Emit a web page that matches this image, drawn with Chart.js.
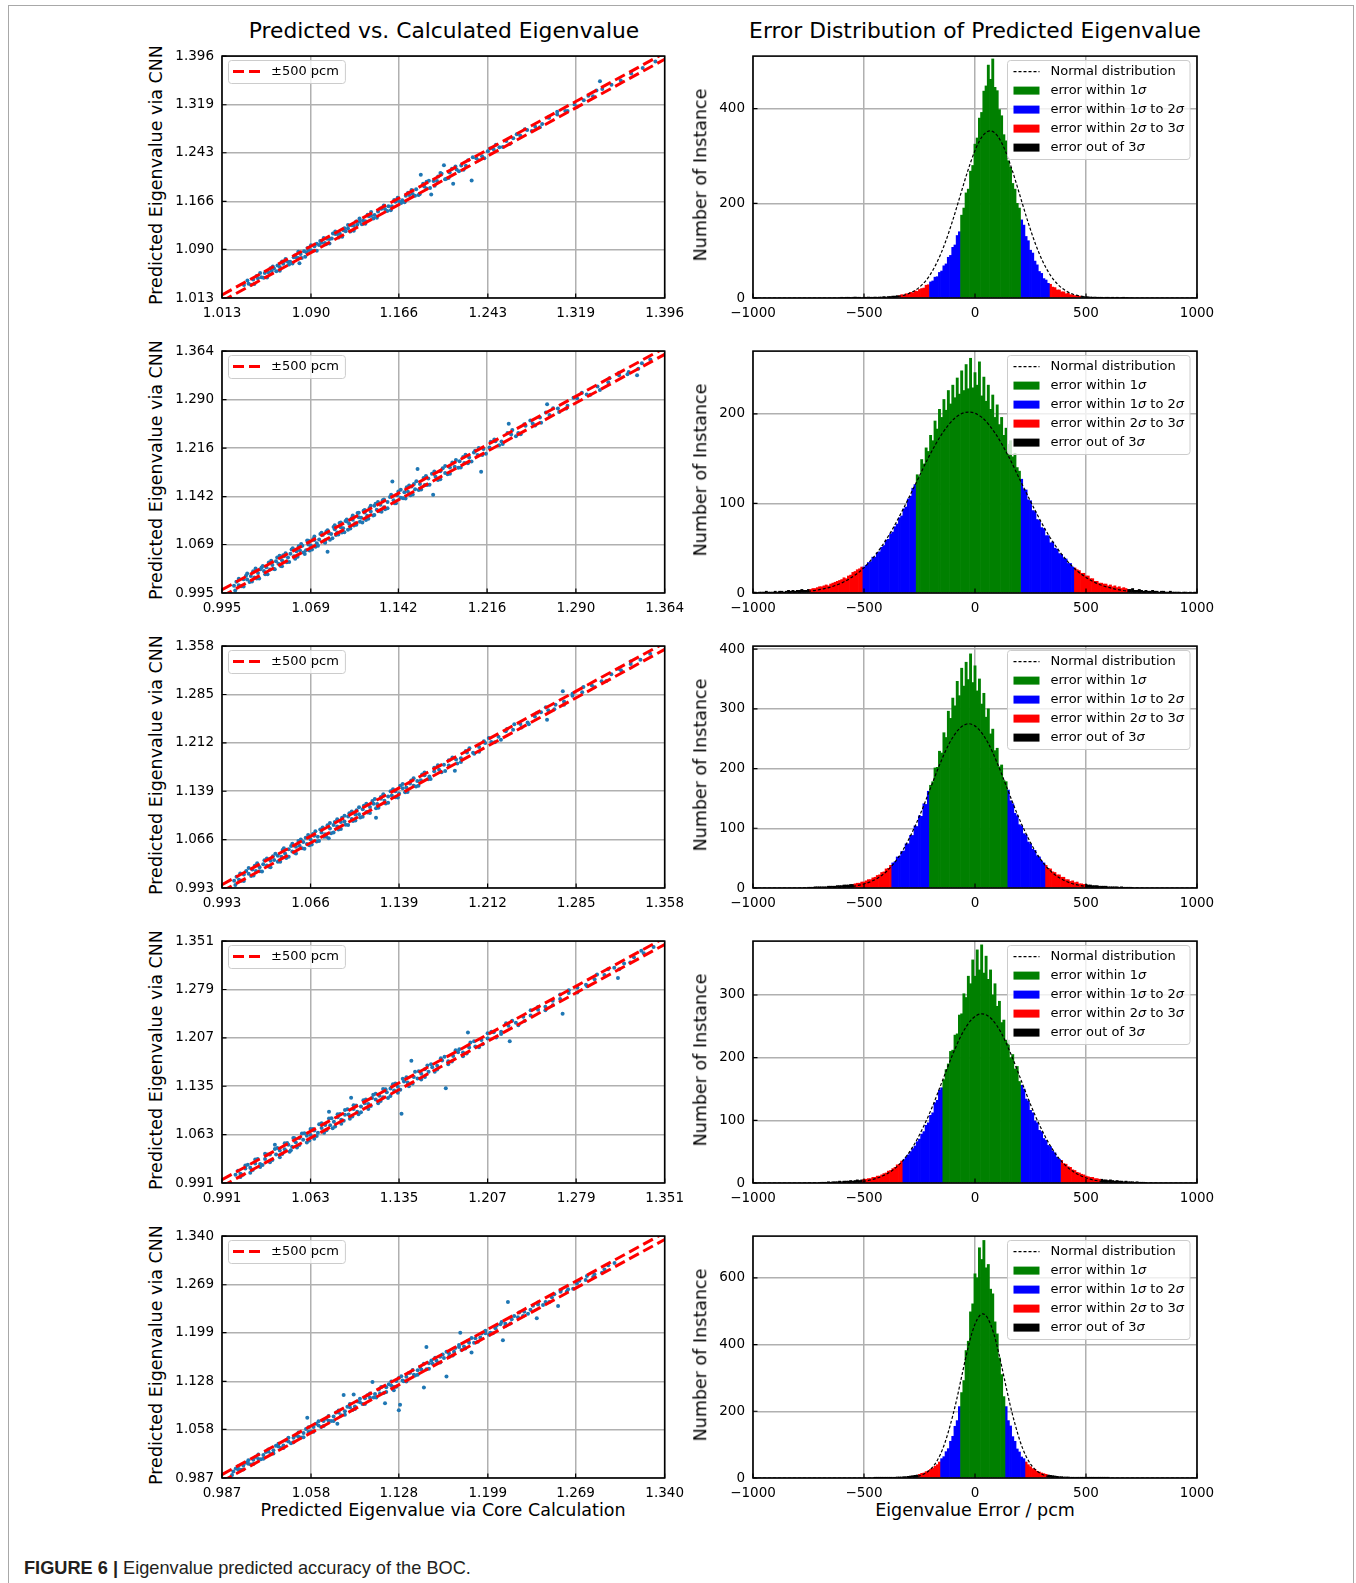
<!DOCTYPE html>
<html>
<head>
<meta charset="utf-8">
<script src="https://cdn.jsdelivr.net/npm/chart.js@4.4.1/dist/chart.umd.min.js"></script>
<style>
body { margin:0; width:1356px; height:1583px; overflow:hidden; background:#fff; position:relative; font-family:"DejaVu Sans", sans-serif; }
.frame { position:absolute; left:8px; top:5px; width:1344px; height:1600px; border:1px solid #a8a8a8; }
.lbl { position:absolute; white-space:nowrap; transform:translate(-50%,-50%); color:#000; line-height:1; }
.rot { transform:translate(-50%,-50%) rotate(-90deg); }
canvas { position:absolute; }
.caption { position:absolute; left:24px; top:1559px; line-height:1; color:#231f20; font-family:"Liberation Sans Narrow","Liberation Sans",Arial,sans-serif; font-size:18.2px; }
</style>
</head>
<body>
<div class="frame"></div>
<div class="lbl" style="left:444px;top:31px;font-size:21.8px">Predicted vs. Calculated Eigenvalue</div>
<div class="lbl" style="left:975px;top:31px;font-size:21.8px">Error Distribution of Predicted Eigenvalue</div>
<div class="lbl" style="left:443px;top:1511px;font-size:17.5px">Predicted Eigenvalue via Core Calculation</div>
<div class="lbl" style="left:975px;top:1511px;font-size:17.5px">Eigenvalue Error / pcm</div>
<div class="caption"><b>FIGURE 6 |</b> Eigenvalue predicted accuracy of the BOC.</div>
<script>
// tick labels of the eigenvalue axes, one list per row
const kTicks1 = [1.013, 1.090, 1.166, 1.243, 1.319, 1.396];
const kTicks2 = [0.995, 1.069, 1.142, 1.216, 1.290, 1.364];
const kTicks3 = [0.993, 1.066, 1.139, 1.212, 1.285, 1.358];
const kTicks4 = [0.991, 1.063, 1.135, 1.207, 1.279, 1.351];
const kTicks5 = [0.987, 1.058, 1.128, 1.199, 1.269, 1.340];

// scatter points: [calculated eigenvalue, error of the CNN prediction in pcm]
const pts1 = [[1.032,150],[1.036,-60],[1.040,210],[1.044,40],[1.047,-120],[1.050,260],[1.053,90],[1.056,-30],[1.058,180],[1.061,330],[1.063,-90],[1.066,120],[1.068,400],[1.070,20],[1.072,-180],[1.075,240],[1.077,60],[1.079,-260],[1.080,-1200],[1.081,150],[1.084,310],[1.086,-40],[1.088,90],[1.090,-140],[1.093,200],[1.095,380],[1.097,10],[1.099,150],[1.102,-200],[1.104,270],[1.106,60],[1.108,-80],[1.111,330],[1.113,120],[1.115,-30],[1.118,220],[1.120,-150],[1.122,90],[1.125,300],[1.127,20],[1.130,-110],[1.132,180],[1.135,60],[1.137,-240],[1.140,250],[1.142,110],[1.145,-60],[1.148,190],[1.151,350],[1.154,-10],[1.157,140],[1.160,-180],[1.163,230],[1.166,40],[1.169,-120],[1.172,300],[1.175,90],[1.178,-40],[1.181,420],[1.183,-700],[1.185,2300],[1.188,160],[1.190,-380],[1.192,650],[1.194,-1700],[1.196,240],[1.199,-90],[1.202,900],[1.205,1800],[1.207,-500],[1.210,170],[1.213,-1900],[1.216,60],[1.220,280],[1.224,-150],[1.229,-3000],[1.233,120],[1.238,-60],[1.243,220],[1.248,40],[1.253,-130],[1.259,260],[1.265,80],[1.271,-90],[1.277,190],[1.284,30],[1.290,-160],[1.296,240],[1.303,70],[1.310,-110],[1.318,150],[1.326,20],[1.334,-140],[1.340,1600],[1.342,180],[1.350,60],[1.358,-80],[1.367,130],[1.377,20],[1.388,-50],
  [1.038,-420],[1.043,480],[1.049,-380],[1.055,520],[1.060,-450],[1.065,560],[1.071,-500],[1.076,430],[1.082,-560],[1.087,500],[1.092,-420],[1.098,540],[1.103,-480],[1.109,600],[1.114,-520],[1.119,460],[1.124,-560],[1.129,520],[1.134,-430],[1.139,580],[1.144,-500],[1.150,470],[1.156,-540],[1.162,600],[1.168,-460],[1.174,550],[1.180,-520],[1.187,680],[1.193,-600],[1.200,520],[1.206,-480],[1.212,560],[1.218,-420],[1.226,500],[1.235,-380],[1.245,460],[1.256,-400],[1.268,420],[1.281,-360],[1.295,380],[1.312,-300],[1.330,340],
  [1.035,560],[1.041,-600],[1.046,640],[1.052,-660],[1.057,600],[1.063,-700],[1.068,660],[1.074,-640],[1.079,720],[1.085,-680],[1.090,640],[1.095,-720],[1.101,700],[1.106,-660],[1.111,740],[1.117,-700],[1.122,660],[1.127,-740],[1.132,700],[1.137,-660],[1.142,720],[1.147,-700],[1.153,660],[1.159,-720],[1.165,680],[1.171,-640],[1.177,700],[1.184,-660],[1.190,720],[1.197,-640],[1.203,660],[1.209,-600],[1.215,640],[1.222,-580],[1.230,600],[1.240,-560],[1.250,560],[1.262,-520],[1.275,520],[1.288,-480],[1.303,480],[1.320,-440],[1.337,440]];
const pts2 = [[1.005,120],[1.009,-200],[1.013,300],[1.016,-40],[1.019,180],[1.022,-320],[1.025,60],[1.027,420],[1.030,-150],[1.032,240],[1.035,-420],[1.037,90],[1.040,350],[1.042,-250],[1.045,10],[1.047,460],[1.050,-100],[1.052,280],[1.055,-380],[1.057,150],[1.060,-30],[1.062,520],[1.065,-480],[1.067,200],[1.069,-160],[1.072,380],[1.074,-300],[1.076,60],[1.079,440],[1.081,-540],[1.083,-2500],[1.084,220],[1.086,-90],[1.089,330],[1.091,-380],[1.094,120],[1.096,-220],[1.099,500],[1.101,-30],[1.104,260],[1.106,-450],[1.109,140],[1.111,-120],[1.114,380],[1.116,-300],[1.119,40],[1.122,600],[1.124,-200],[1.127,280],[1.130,-420],[1.133,90],[1.137,2800],[1.138,-160],[1.141,330],[1.144,-380],[1.147,180],[1.150,-50],[1.153,460],[1.156,-260],[1.158,2600],[1.160,120],[1.164,-440],[1.167,250],[1.171,-2600],[1.173,-80],[1.177,380],[1.181,-280],[1.185,140],[1.189,-160],[1.193,300],[1.197,-380],[1.201,60],[1.205,420],[1.208,-240],[1.211,-3100],[1.213,180],[1.218,-90],[1.223,330],[1.228,-200],[1.234,1900],[1.236,80],[1.242,-300],[1.248,220],[1.254,-60],[1.260,280],[1.266,1700],[1.268,-140],[1.275,160],[1.283,-220],[1.291,90],[1.299,-120],[1.308,200],[1.317,-40],[1.326,120],[1.334,-180],[1.341,-1400],[1.345,60],[1.352,-90],
  [1.007,520],[1.011,-560],[1.015,640],[1.018,-620],[1.021,700],[1.024,-680],[1.028,580],[1.031,-740],[1.034,760],[1.038,-600],[1.041,820],[1.044,-780],[1.046,660],[1.049,-700],[1.053,840],[1.056,-860],[1.059,720],[1.063,-640],[1.066,900],[1.068,-820],[1.071,620],[1.073,-760],[1.077,800],[1.080,-700],[1.082,680],[1.085,-880],[1.088,760],[1.090,-640],[1.093,860],[1.095,-780],[1.098,700],[1.100,-840],[1.103,620],[1.105,-700],[1.108,900],[1.110,-620],[1.113,760],[1.115,-860],[1.118,680],[1.121,-760],[1.123,820],[1.126,-640],[1.129,740],[1.131,-820],[1.135,640],[1.139,-720],[1.142,800],[1.146,-660],[1.149,720],[1.152,-800],[1.155,620],[1.159,-700],[1.163,760],[1.166,-620],[1.170,700],[1.175,-760],[1.179,620],[1.183,-680],[1.187,720],[1.192,-600],[1.196,660],[1.200,-700],[1.206,600],[1.212,-640],[1.219,680],[1.226,-560],[1.233,600],[1.240,-600],[1.247,540],[1.256,-560],[1.265,520],[1.276,-480],[1.288,500],[1.302,-460],[1.318,460],[1.333,-420],
  [1.006,-700],[1.009,760],[1.013,-820],[1.016,880],[1.020,-760],[1.023,920],[1.026,-880],[1.029,700],[1.033,-940],[1.036,820],[1.039,-760],[1.043,900],[1.045,-920],[1.048,780],[1.051,-860],[1.054,940],[1.058,-780],[1.061,860],[1.064,-940],[1.067,760],[1.070,-880],[1.072,920],[1.075,-800],[1.078,880],[1.081,-940],[1.083,780],[1.087,-840],[1.089,920],[1.092,-760],[1.094,860],[1.097,-920],[1.099,800],[1.102,-880],[1.104,940],[1.107,-800],[1.109,860],[1.112,-940],[1.114,780],[1.117,-880],[1.119,900],[1.122,-820],[1.125,880],[1.128,-900],[1.130,760],[1.133,-860],[1.136,900],[1.140,-820],[1.144,860],[1.148,-880],[1.151,780],[1.154,-860],[1.157,840],[1.161,-800],[1.165,860],[1.168,-780],[1.172,820],[1.177,-840],[1.181,760],[1.185,-820],[1.190,780],[1.194,-760],[1.198,800],[1.203,-740],[1.209,720],[1.215,-760],[1.222,700],[1.229,-680],[1.237,660],[1.244,-680],[1.252,620],[1.261,-620],[1.271,600],[1.282,-560],[1.295,540],[1.310,-520],[1.326,500],[1.342,-480]];
const pts3 = [[1.003,80],[1.007,-150],[1.011,220],[1.015,-60],[1.018,300],[1.021,-240],[1.024,40],[1.027,180],[1.030,-320],[1.033,110],[1.036,-80],[1.039,260],[1.042,-190],[1.045,20],[1.048,350],[1.051,-280],[1.054,130],[1.057,-40],[1.060,240],[1.063,-360],[1.066,70],[1.069,300],[1.072,-150],[1.075,180],[1.078,-400],[1.081,-1300],[1.082,60],[1.085,320],[1.088,-220],[1.091,140],[1.094,-60],[1.097,380],[1.100,-300],[1.103,100],[1.106,-160],[1.109,270],[1.112,-420],[1.115,30],[1.118,220],[1.120,-2100],[1.121,-120],[1.124,360],[1.127,-250],[1.130,90],[1.133,-60],[1.136,300],[1.139,-330],[1.142,150],[1.145,-20],[1.148,250],[1.151,-380],[1.154,60],[1.157,-140],[1.160,320],[1.164,-260],[1.168,110],[1.172,-50],[1.176,280],[1.180,-220],[1.185,-1500],[1.186,80],[1.190,-130],[1.195,240],[1.200,-280],[1.205,60],[1.210,190],[1.215,-180],[1.221,40],[1.227,260],[1.233,-120],[1.239,130],[1.245,-210],[1.251,70],[1.256,220],[1.261,-1400],[1.262,-80],[1.268,150],[1.274,1600],[1.275,-60],[1.282,110],[1.290,-150],[1.298,60],[1.306,-90],[1.314,140],[1.322,-30],[1.330,90],[1.338,-60],[1.346,40],
  [1.005,480],[1.009,-520],[1.013,560],[1.017,-600],[1.020,640],[1.024,-560],[1.028,680],[1.032,-700],[1.035,600],[1.039,-640],[1.043,720],[1.046,-760],[1.050,620],[1.053,-680],[1.056,780],[1.059,-620],[1.062,700],[1.065,-740],[1.068,640],[1.071,-800],[1.074,720],[1.077,-660],[1.080,760],[1.083,-720],[1.086,660],[1.089,-780],[1.092,700],[1.095,-640],[1.098,780],[1.101,-700],[1.104,620],[1.107,-760],[1.110,700],[1.113,-620],[1.117,740],[1.120,-680],[1.124,640],[1.128,-740],[1.132,680],[1.136,-620],[1.140,720],[1.144,-660],[1.149,620],[1.153,-700],[1.158,640],[1.163,-600],[1.168,660],[1.174,-620],[1.180,580],[1.187,-600],[1.194,560],[1.201,-540],[1.209,560],[1.218,-520],[1.228,500],[1.240,-480],[1.253,460],[1.267,-440],[1.282,420],[1.300,-400],[1.320,380],
  [1.004,-640],[1.008,700],[1.011,-760],[1.015,800],[1.019,-720],[1.022,840],[1.026,-800],[1.030,760],[1.033,-860],[1.037,780],[1.041,-840],[1.044,880],[1.048,-780],[1.051,860],[1.054,-900],[1.058,820],[1.061,-860],[1.064,900],[1.067,-820],[1.070,880],[1.073,-900],[1.076,840],[1.079,-880],[1.082,900],[1.085,-840],[1.088,880],[1.091,-900],[1.094,820],[1.097,-880],[1.100,860],[1.103,-820],[1.106,880],[1.109,-860],[1.112,800],[1.115,-880],[1.119,840],[1.122,-800],[1.126,860],[1.130,-820],[1.134,800],[1.138,-840],[1.142,780],[1.146,-800],[1.151,760],[1.155,-780],[1.160,740],[1.165,-760],[1.171,720],[1.177,-740],[1.183,700],[1.190,-700],[1.197,680],[1.205,-660],[1.213,640],[1.223,-620],[1.234,600],[1.246,-580],[1.260,560],[1.275,-540],[1.291,520],[1.310,-480],[1.330,460]];
const pts4 = [[1.002,140],[1.006,-120],[1.010,260],[1.014,-20],[1.018,190],[1.022,-260],[1.026,80],[1.030,340],[1.034,1400],[1.035,-150],[1.038,120],[1.042,-60],[1.045,280],[1.048,-300],[1.051,60],[1.054,380],[1.057,-180],[1.060,150],[1.063,-40],[1.066,300],[1.069,-340],[1.072,100],[1.075,240],[1.078,1900],[1.079,-200],[1.082,30],[1.085,400],[1.088,-280],[1.091,170],[1.094,-100],[1.096,2200],[1.098,330],[1.101,-380],[1.104,80],[1.107,260],[1.110,-160],[1.113,440],[1.116,-60],[1.119,200],[1.122,-320],[1.125,100],[1.128,360],[1.131,-220],[1.134,40],[1.137,-4300],[1.139,300],[1.142,-140],[1.145,2800],[1.147,180],[1.150,-360],[1.153,60],[1.156,420],[1.159,-240],[1.162,140],[1.166,-60],[1.170,320],[1.173,-4100],[1.175,-280],[1.179,100],[1.183,240],[1.187,-180],[1.191,2400],[1.192,60],[1.197,-300],[1.202,200],[1.207,-80],[1.212,340],[1.218,-200],[1.224,120],[1.225,-2300],[1.230,-40],[1.236,260],[1.242,-160],[1.248,90],[1.254,-60],[1.260,220],[1.266,-120],[1.268,-2500],[1.273,60],[1.280,180],[1.287,-100],[1.294,40],[1.302,-160],[1.310,120],[1.313,-1700],[1.318,-40],[1.326,80],[1.334,-120],[1.342,30],
  [1.004,520],[1.008,-480],[1.012,600],[1.016,-560],[1.020,660],[1.024,-620],[1.028,560],[1.032,-680],[1.036,720],[1.040,-600],[1.044,640],[1.047,-720],[1.050,760],[1.054,-640],[1.058,700],[1.062,-760],[1.065,620],[1.068,-700],[1.072,780],[1.076,-640],[1.080,720],[1.083,-780],[1.087,680],[1.090,-620],[1.093,760],[1.097,-700],[1.100,640],[1.104,-760],[1.108,720],[1.112,-640],[1.116,780],[1.120,-700],[1.124,660],[1.128,-740],[1.132,700],[1.136,-620],[1.141,740],[1.146,-680],[1.151,640],[1.156,-720],[1.161,660],[1.166,-600],[1.172,700],[1.178,-620],[1.184,600],[1.190,-640],[1.196,580],[1.203,-560],[1.210,600],[1.218,-520],[1.227,540],[1.237,-500],[1.248,500],[1.260,-460],[1.273,480],[1.288,-420],[1.305,400],[1.323,-380],
  [1.006,-620],[1.010,700],[1.014,-760],[1.018,780],[1.022,-720],[1.026,840],[1.030,-800],[1.034,760],[1.038,-860],[1.042,820],[1.046,-840],[1.049,880],[1.052,-800],[1.056,860],[1.060,-880],[1.063,820],[1.066,-900],[1.070,860],[1.074,-840],[1.078,900],[1.081,-860],[1.085,840],[1.088,-900],[1.091,860],[1.095,-820],[1.098,880],[1.102,-860],[1.106,820],[1.110,-880],[1.114,840],[1.118,-820],[1.122,880],[1.126,-840],[1.130,800],[1.134,-860],[1.138,820],[1.143,-800],[1.148,840],[1.153,-780],[1.158,800],[1.164,-760],[1.169,780],[1.175,-740],[1.181,760],[1.187,-720],[1.193,720],[1.200,-700],[1.207,680],[1.214,-660],[1.222,660],[1.232,-620],[1.242,620],[1.254,-580],[1.266,560],[1.280,-540],[1.296,520],[1.314,-480],[1.332,460]];
const pts5 = [[0.996,60],[1.000,-90],[1.004,130],[1.008,-20],[1.012,150],[1.016,-120],[1.020,40],[1.024,180],[1.028,-60],[1.032,100],[1.036,-150],[1.040,20],[1.044,170],[1.048,-90],[1.052,60],[1.055,2000],[1.056,-200],[1.060,140],[1.064,-40],[1.068,210],[1.072,-130],[1.076,80],[1.079,-1300],[1.080,250],[1.084,2400],[1.085,-60],[1.089,120],[1.092,1700],[1.093,-180],[1.097,40],[1.101,220],[1.105,-100],[1.107,2000],[1.109,60],[1.113,-260],[1.117,-2100],[1.118,150],[1.122,-40],[1.124,-900],[1.126,260],[1.128,-4200],[1.129,-3500],[1.131,-160],[1.134,80],[1.137,350],[1.140,-240],[1.143,120],[1.146,-60],[1.148,-2900],[1.150,2800],[1.152,230],[1.155,-140],[1.158,60],[1.161,300],[1.164,-200],[1.166,-3100],[1.168,100],[1.172,-60],[1.176,200],[1.177,2200],[1.180,-120],[1.184,40],[1.186,-1600],[1.189,180],[1.193,-80],[1.197,120],[1.201,-200],[1.205,60],[1.209,240],[1.211,-2300],[1.213,-100],[1.215,2900],[1.218,80],[1.223,-140],[1.228,160],[1.233,-40],[1.238,-1800],[1.239,110],[1.245,-120],[1.250,60],[1.255,-1700],[1.257,180],[1.263,-60],[1.270,100],[1.277,-100],[1.284,40],[1.292,-80],[1.300,60],
  [0.998,280],[1.002,-300],[1.006,340],[1.010,-320],[1.014,380],[1.018,-360],[1.022,300],[1.026,-400],[1.030,420],[1.034,-340],[1.038,360],[1.042,-420],[1.046,300],[1.050,-380],[1.054,440],[1.058,-320],[1.062,400],[1.066,-440],[1.070,340],[1.074,-380],[1.078,460],[1.082,-340],[1.087,400],[1.091,-460],[1.095,360],[1.099,-400],[1.103,480],[1.108,-360],[1.112,420],[1.116,-480],[1.120,380],[1.124,-420],[1.128,500],[1.132,-380],[1.136,440],[1.141,-460],[1.145,400],[1.150,-420],[1.154,460],[1.159,-380],[1.163,420],[1.168,-400],[1.173,380],[1.178,-420],[1.183,400],[1.188,-360],[1.194,380],[1.200,-400],[1.206,360],[1.213,-380],[1.220,340],[1.227,-360],[1.235,320],[1.243,-340],[1.252,300],[1.262,-300],[1.272,280],[1.283,-260],[1.295,240],
  [0.995,-360],[1.000,420],[1.004,-460],[1.008,480],[1.012,-440],[1.016,520],[1.020,-500],[1.024,460],[1.028,-540],[1.032,500],[1.036,-520],[1.040,560],[1.044,-500],[1.048,540],[1.052,-560],[1.056,520],[1.060,-540],[1.064,580],[1.068,-520],[1.072,560],[1.076,-580],[1.080,540],[1.085,-560],[1.089,600],[1.093,-540],[1.097,560],[1.101,-600],[1.105,540],[1.110,-560],[1.114,580],[1.118,-540],[1.122,600],[1.126,-580],[1.130,540],[1.134,-600],[1.139,560],[1.143,-540],[1.148,580],[1.152,-560],[1.157,540],[1.161,-560],[1.166,520],[1.171,-540],[1.176,520],[1.181,-500],[1.186,520],[1.191,-500],[1.197,480],[1.203,-480],[1.210,460],[1.217,-460],[1.224,440],[1.231,-440],[1.239,420],[1.248,-400],[1.257,400],[1.267,-380],[1.278,360],[1.290,-340]];

// error histograms: counts per 10 pcm bin, starting at the given bin centre
const binWidth = 10;
const errTicks = [-1000, -500, 0, 500, 1000];

const hist1Start = -600;
const hist1 = [1,0,1,1,0,1,2,1,1,0,1,1,2,1,1,2,1,2,2,3,
  2,3,3,4,4,5,
  5,7,6,9,8,12,11,15,14,18,20,21,27,28,
  34,36,44,45,54,57,68,72,86,90,107,112,132,140,
  175,190,222,230,268,280,325,338,380,392,437,448,492,462,505,445,438,398,385,345,332,290,276,242,230,200,190,
  165,154,130,121,101,95,78,70,56,52,41,38,31,
  29,23,22,17,17,13,13,9,10,7,7,5,5,4,
  3,3,2,2,2,1,2,1,1,1,0,1,1,0,1,0,1,0,0,1,0,0,0];
const hist1Edges = [-340, -204, -68, 204, 340, 476];   // mean -3σ ... +3σ
const hist1Ticks = [0, 200, 400];
const hist1Max = 511;

const hist2Start = -1000;
const hist2 = [1,1,0,1,1,1,2,1,1,1,
  2,1,2,2,1,2,3,2,3,2,3,3,4,3,3,4,
  4,5,5,6,7,7,8,9,8,10,11,12,13,14,15,17,16,19,20,23,24,26,27,29,
  29,31,34,35,40,40,45,46,51,53,59,60,66,68,74,77,84,86,94,96,105,108,117,121,
  132,130,149,144,162,158,176,170,192,183,205,196,216,204,226,211,232,218,240,222,248,226,255,228,262,229,246,232,258,220,241,214,232,205,221,196,210,188,196,176,184,166,170,152,156,140,136,
  127,116,115,104,103,92,91,82,81,73,72,64,64,56,57,50,49,44,43,39,38,33,33,29,
  28,26,25,22,22,19,19,16,16,13,13,11,11,10,10,8,9,7,8,6,7,5,6,5,
  4,4,5,3,3,4,3,2,3,2,2,3,2,2,1,2,2,1,1,2,1,1,1,1,0,1,1,0,1,0,1,0];
const hist2Edges = [-742, -504, -266, 210, 448, 686];
const hist2Ticks = [0, 100, 200];
const hist2Max = 270;

const hist3Start = -750;
const hist3 = [1,1,1,2,2,2,2,2,2,3,3,3,3,4,4,4,5,5,5,6,6,
  7,8,8,10,10,12,14,14,17,18,21,22,26,27,32,33,38,
  42,44,52,53,61,62,74,74,88,88,104,103,121,120,141,140,162,
  172,178,201,202,229,226,260,252,296,284,318,305,346,322,368,338,378,349,392,344,372,330,350,308,326,286,300,258,266,230,234,203,206,180,178,
  164,146,141,125,121,106,104,91,89,77,74,65,63,54,52,45,42,
  38,33,32,27,26,22,22,18,18,14,14,11,12,9,10,7,7,6,
  6,5,5,4,4,4,3,3,3,3,2,2,2,2,2,1,2,1,1,1,1];
const hist3Edges = [-547, -374, -201, 145, 318, 491];
const hist3Ticks = [0, 100, 200, 300, 400];
const hist3Max = 405;

const hist4Start = -690;
const hist4 = [1,1,1,2,1,2,2,2,3,2,3,3,3,4,3,4,5,4,5,6,6,
  7,7,9,9,11,11,13,15,16,19,20,23,25,29,30,35,37,
  41,45,50,55,59,66,70,78,82,92,96,108,112,128,132,148,152,
  165,181,190,210,212,236,238,268,270,302,296,330,318,356,330,372,340,380,335,362,325,340,300,318,282,290,256,260,228,228,200,205,182,186,162,
  156,150,134,131,116,112,99,96,84,82,71,68,60,58,51,48,41,
  38,36,31,30,26,25,21,20,17,16,14,13,11,10,9,9,7,7,
  6,6,5,5,4,5,4,3,4,3,3,2,3,2,2,2,1,2,1,1,1];
const hist4Edges = [-500, -323, -146, 208, 385, 562];
const hist4Ticks = [0, 100, 200, 300];
const hist4Max = 386;

const hist5Start = -450;
const hist5 = [1,1,1,1,1,1,2,1,2,2,
  3,3,3,4,4,5,6,7,8,9,
  11,14,15,19,21,26,29,35,40,48,
  58,64,79,88,110,125,155,172,214,
  256,292,382,410,498,522,612,600,690,655,712,630,640,566,552,468,432,360,310,244,
  214,172,156,124,110,87,78,63,58,
  48,40,34,28,26,20,18,15,13,11,
  9,8,7,6,5,4,4,3,3,3,2,2,2,2,2,1,2,1,1,1,1,1,1,1,1,1,1,1];
const hist5Edges = [-256, -159, -62, 132, 229, 326];
const hist5Ticks = [0, 200, 400, 600];
const hist5Max = 725;

// dashed normal distribution curves
const norm1X = [-1000,-476,-408,-340,-306,-272,-238,-204,-170,-136,-102,-68,-34,0,34,68,102,136,170,204,238,272,306,340,374,408,442,476,544,612,1000];
const norm1Y = [0,0.1,0.8,3.9,8.0,15.5,28.1,47.8,76.4,114.6,161.6,214.1,266.4,311.5,342.1,353,342.1,311.5,266.4,214.1,161.6,114.6,76.4,47.8,28.1,15.5,8.0,3.9,0.8,0.1,0];
const norm2X = [-1000,-980,-861,-742,-683,-623,-564,-504,-445,-385,-326,-266,-207,-147,-88,-28,32,91,151,210,270,329,389,448,508,567,627,686,805,924,1000];
const norm2Y = [0,0.1,0.4,2.2,4.6,8.9,16.1,27.3,43.7,65.6,92.5,122.5,152.5,178.3,195.8,202,195.8,178.3,152.5,122.5,92.5,65.6,43.7,27.3,16.1,8.9,4.6,2.2,0.4,0.1,0];
const norm3X = [-1000,-720,-634,-547,-504,-461,-417,-374,-331,-288,-244,-201,-158,-115,-71,-28,15,59,102,145,188,232,275,318,361,405,448,491,578,664,1000];
const norm3Y = [0,0.1,0.6,3.1,6.3,12.1,21.9,37.2,59.5,89.3,125.9,166.8,207.6,242.7,266.5,275,266.5,242.7,207.6,166.8,125.9,89.3,59.5,37.2,21.9,12.1,6.3,3.1,0.6,0.1,0];
const norm4X = [-1000,-677,-589,-500,-456,-412,-367,-323,-279,-235,-190,-146,-102,-58,-13,31,75,120,164,208,252,297,341,385,429,474,518,562,651,739,1000];
const norm4Y = [0,0.1,0.6,3.0,6.2,11.9,21.5,36.5,58.4,87.7,123.6,163.8,203.8,238.3,261.7,270,261.7,238.3,203.8,163.8,123.6,87.7,58.4,36.5,21.5,11.9,6.2,3.0,0.6,0.1,0];
const norm5X = [-1000,-353,-305,-256,-232,-208,-183,-159,-135,-111,-86,-62,-38,-14,11,35,59,84,108,132,156,181,205,229,253,278,302,326,375,423,1000];
const norm5Y = [0,0.1,1.1,5.5,11.2,21.6,39.2,66.6,106.4,159.8,225.2,298.4,371.4,434.2,476.8,492,476.8,434.2,371.4,298.4,225.2,159.8,106.4,66.6,39.2,21.6,11.2,5.5,1.1,0.1,0];

const bandPcm = 500;

const rows = [
  {kTicks: kTicks1, pts: pts1, start: hist1Start, hist: hist1, edges: hist1Edges, yTicks: hist1Ticks, yMax: hist1Max, nx: norm1X, ny: norm1Y},
  {kTicks: kTicks2, pts: pts2, start: hist2Start, hist: hist2, edges: hist2Edges, yTicks: hist2Ticks, yMax: hist2Max, nx: norm2X, ny: norm2Y},
  {kTicks: kTicks3, pts: pts3, start: hist3Start, hist: hist3, edges: hist3Edges, yTicks: hist3Ticks, yMax: hist3Max, nx: norm3X, ny: norm3Y},
  {kTicks: kTicks4, pts: pts4, start: hist4Start, hist: hist4, edges: hist4Edges, yTicks: hist4Ticks, yMax: hist4Max, nx: norm4X, ny: norm4Y},
  {kTicks: kTicks5, pts: pts5, start: hist5Start, hist: hist5, edges: hist5Edges, yTicks: hist5Ticks, yMax: hist5Max, nx: norm5X, ny: norm5Y}
];

Chart.defaults.font.family = "'DejaVu Sans', sans-serif";
Chart.defaults.font.size = 13.5;
Chart.defaults.color = '#000';

// page layout of the plot boxes
const plotTop = [52, 347, 642, 937, 1232];
const plotH = 246;
const leftPlotX = 222, leftPlotW = 443;
const rightPlotX = 753, rightPlotW = 444;
const yAxisW = 50, xAxisH = 26, padTop = 12, padRight = 26, padBottom = 4;

const FONT = "13px 'DejaVu Sans'";
const IFONT = "italic 13px 'DejaVu Sans'";

function drawLegend(chart, o) {
  const ctx = chart.ctx, a = chart.chartArea;
  const items = chart.data.datasets.filter(d => d.inLegend);
  const parts = s => s.split(/(σ)/).filter(p => p);
  const textW = s => parts(s).reduce((w, p) => { ctx.font = p === 'σ' ? IFONT : FONT; return w + ctx.measureText(p).width; }, 0);
  const maxW = Math.max(...items.map(d => textW(d.label)));
  const rowH = 19;
  const w = 43 + maxW + 6, h = rowH * items.length + 4;
  const x = o.side === 'left' ? a.left + 6 : a.right - 7 - w;
  const y = a.top + 4;
  ctx.fillStyle = 'rgba(255,255,255,0.8)';
  ctx.strokeStyle = '#cccccc';
  ctx.lineWidth = 1;
  ctx.beginPath();
  ctx.roundRect(Math.round(x) + 0.5, Math.round(y) + 0.5, w, h, 3);
  ctx.fill();
  ctx.stroke();
  items.forEach((d, i) => {
    const cy = y + 11.5 + i * rowH;
    if (d.type === 'line') {
      ctx.save();
      ctx.setLineDash(d.borderDash);
      ctx.strokeStyle = d.borderColor;
      ctx.lineWidth = d.borderWidth;
      ctx.beginPath();
      ctx.moveTo(x + o.handle[0], cy);
      ctx.lineTo(x + o.handle[1], cy);
      ctx.stroke();
      ctx.restore();
    } else {
      ctx.fillStyle = d.backgroundColor;
      ctx.fillRect(x + o.handle[0], cy - 4, o.handle[1] - o.handle[0], 8);
    }
    ctx.fillStyle = '#000';
    ctx.textBaseline = 'middle';
    ctx.textAlign = 'left';
    let tx = x + 43;
    parts(d.label).forEach(p => {
      ctx.font = p === 'σ' ? IFONT : FONT;
      ctx.fillText(p, tx, cy);
      tx += ctx.measureText(p).width;
    });
  });
}

// matplotlib look: inward ticks, black frame, legend box inside the axes
const axesLook = {
  id: 'axesLook',
  afterDraw(chart, args, opts) {
    const {ctx, chartArea: a} = chart;
    const xs = chart.scales.x, ys = chart.scales.y;
    ctx.save();
    ctx.strokeStyle = '#000';
    ctx.lineWidth = 1.2;
    ctx.beginPath();
    xs.ticks.forEach(t => { const p = xs.getPixelForValue(t.value); ctx.moveTo(p, a.bottom); ctx.lineTo(p, a.bottom - 4.5); });
    ys.ticks.forEach(t => { const p = ys.getPixelForValue(t.value); ctx.moveTo(a.left, p); ctx.lineTo(a.left + 4.5, p); });
    ctx.stroke();
    ctx.lineWidth = 1.6;
    ctx.strokeRect(a.left, a.top, a.right - a.left, a.bottom - a.top);
    drawLegend(chart, opts);
    ctx.restore();
  }
};

function axis(ticks, fmt, min, max, vertical, z) {
  return {
    type: 'linear', min: min, max: max, offset: false, z: z,
    afterBuildTicks: s => { s.ticks = ticks.map(v => ({value: v})); },
    afterFit: s => { if (vertical) s.width = yAxisW; else s.height = xAxisH; },
    ticks: { callback: fmt, padding: vertical ? 8 : 7, autoSkip: false, maxRotation: 0, minRotation: 0, color: '#000' },
    grid: { color: '#b0b0b0', lineWidth: 1.5, drawTicks: false, offset: false },
    border: { display: false }
  };
}

function commonOptions(scales, legend) {
  return {
    responsive: false, animation: false, devicePixelRatio: 1, events: [],
    layout: { padding: { top: padTop, right: padRight, bottom: padBottom, left: 0 } },
    plugins: { legend: { display: false }, tooltip: { enabled: false }, axesLook: legend },
    scales: scales
  };
}

function addCanvas(left, top, w, h) {
  const c = document.createElement('canvas');
  c.width = w; c.height = h;
  c.style.left = left + 'px'; c.style.top = top + 'px';
  document.body.appendChild(c);
  return c;
}

function addLabel(text, x, y, size, rot) {
  const d = document.createElement('div');
  d.className = rot ? 'lbl rot' : 'lbl';
  d.style.left = x + 'px'; d.style.top = y + 'px'; d.style.fontSize = size + 'px';
  d.textContent = text;
  document.body.appendChild(d);
}

const fmtK = v => v.toFixed(3);
const fmtErr = v => v < 0 ? '\u2212' + Math.abs(v) : String(v);

function scatterPanel(r, top) {
  const lo = r.kTicks[0], hi = r.kTicks[r.kTicks.length - 1];
  const band = bandPcm / 1e5;
  const redLine = (off, label) => ({
    type: 'line', label: label, inLegend: !!label,
    data: [{x: lo, y: lo + off}, {x: hi, y: hi + off}],
    borderColor: '#ff0000', borderWidth: 3, borderDash: [11, 5], pointRadius: 0, order: 1, clip: 0
  });
  const cv = addCanvas(leftPlotX - yAxisW, top - padTop, yAxisW + leftPlotW + padRight, padTop + plotH + xAxisH + padBottom);
  new Chart(cv, {
    type: 'scatter',
    data: { datasets: [
      { label: 'CNN', data: r.pts.map(p => ({x: p[0], y: p[0] + p[1] / 1e5})),
        pointRadius: 2, pointBackgroundColor: '#1f77b4', pointBorderWidth: 0, order: 2, clip: 0 },
      redLine(band, '\u00b1500 pcm'),
      redLine(-band, null)
    ]},
    options: commonOptions({
      x: axis(r.kTicks, fmtK, lo, hi, false, 0),
      y: axis(r.kTicks, fmtK, lo, hi, true, 0)
    }, { side: 'left', handle: [5, 35] })
  });
}

function histPanel(r, top) {
  const groups = [[], [], [], []];
  r.hist.forEach((c, i) => {
    const x = r.start + i * binWidth;
    const e = r.edges;
    let g = 3;
    if (x >= e[2] && x < e[3]) g = 0;
    else if (x >= e[1] && x < e[4]) g = 1;
    else if (x >= e[0] && x < e[5]) g = 2;
    groups[g].push({x: x, y: c});
  });
  const bars = (label, color, data) => ({
    type: 'bar', label: label, inLegend: true, data: data, backgroundColor: color,
    borderWidth: 0, barPercentage: 1, categoryPercentage: 1, grouped: false, order: 2, clip: 0
  });
  const cv = addCanvas(rightPlotX - yAxisW, top - padTop, yAxisW + rightPlotW + padRight, padTop + plotH + xAxisH + padBottom);
  new Chart(cv, {
    type: 'bar',
    data: { datasets: [
      { type: 'line', label: 'Normal distribution', inLegend: true,
        data: r.nx.map((x, i) => ({x: x, y: r.ny[i]})),
        borderColor: '#000', borderWidth: 1.2, borderDash: [3, 2], pointRadius: 0,
        cubicInterpolationMode: 'monotone', order: 1, clip: 0 },
      bars('error within 1σ', '#008000', groups[0]),
      bars('error within 1σ to 2σ', '#0000ff', groups[1]),
      bars('error within 2σ to 3σ', '#ff0000', groups[2]),
      bars('error out of 3σ', '#000000', groups[3])
    ]},
    options: commonOptions({
      x: axis(errTicks, fmtErr, -1000, 1000, false, 1),
      y: axis(r.yTicks, v => String(v), 0, r.yMax, true, 1)
    }, { side: 'right', handle: [6, 32] })
  });
}

Chart.register(axesLook);

rows.forEach((r, i) => {
  const top = plotTop[i];
  scatterPanel(r, top);
  histPanel(r, top);
  addLabel('Predicted Eigenvalue via CNN', 157, top + plotH / 2, 17.5, true);
  addLabel('Number of Instance', 701, top + plotH / 2, 17.5, true);
});
</script>
</body>
</html>
